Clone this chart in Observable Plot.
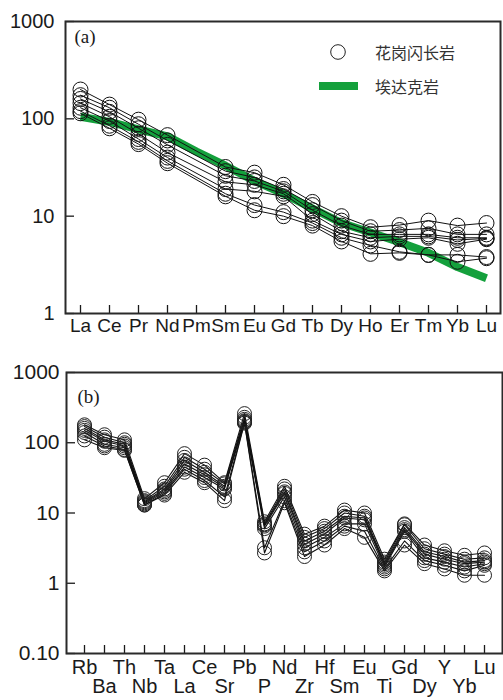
<!DOCTYPE html>
<html><head><meta charset="utf-8">
<script src="https://cdn.jsdelivr.net/npm/d3@7"></script>
<script src="https://cdn.jsdelivr.net/npm/@observablehq/plot@0.6"></script>
<style>
body{margin:0;background:#fff;}
#wrap{position:relative;width:503px;}
#wrap svg{display:block;}
.lg{position:absolute;font-family:"Noto Sans CJK SC",sans-serif;font-size:16px;color:#333;line-height:20px;white-space:nowrap;}
</style></head><body>
<div id="wrap"><div id="chartA"></div><div id="chartB"></div>
<svg class="lg" style="left:330px;top:44px" width="16" height="16"><circle cx="8" cy="8" r="7.3" fill="none" stroke="#222" stroke-width="1"/></svg>
<div class="lg" style="left:375px;top:42px">花岗闪长岩</div>
<div class="lg" style="left:319px;top:82px;width:39px;height:8px;background:#14a03c"></div>
<div class="lg" style="left:375px;top:76px">埃达克岩</div>
</div>
<script>
// ---------- Panel (a): chondrite-normalized REE ----------
const reeElements = ["La","Ce","Pr","Nd","Pm","Sm","Eu","Gd","Tb","Dy","Ho","Er","Tm","Yb","Lu"];
const reeS1 = [200,140,98,68,null,32,28,21,14,10,7.7,8.1,9.0,8.0,8.5];
const reeS2 = [175,130,88,60,null,29,25,19,13,9.0,7.0,7.2,7.5,6.5,6.5];
const reeS3 = [160,118,80,54,null,26,23,18,11.5,8.0,6.5,6.5,6.5,6.0,6.0];
const reeS4 = [145,105,70,45,null,22.5,21,17,10.5,7.0,6.0,6.2,6.2,5.7,5.9];
const reeS5 = [130,95,62,40,null,19,18,16,9.0,6.5,5.5,5.8,6.0,5.2,5.8];
const reeS6 = [120,85,58,37,null,17,13,11,8.5,6.0,5.0,4.3,4.0,4.0,3.8];
const reeS7 = [114,80,55,35,null,16,11.5,10,8.0,5.5,4.1,4.2,4.0,3.4,3.7];
const adakiteREE = [105,93,78,66,46,33,23,17,12,8.5,6.8,5.4,4.2,3.0,2.3];
const yTicksA = [1,10,100,1000];

// ---------- Panel (b): primitive-mantle-normalized spider ----------
const spiderElements = ["Rb","Ba","Th","Nb","Ta","La","Ce","Sr","Pb","P","Nd","Zr","Hf","Sm","Eu","Ti","Gd","Dy","Y","Yb","Lu"];
const spS1 = [180,130,110,16,27,70,48,27,260,7.5,24,5.0,6.5,11,10,2.2,7.0,3.5,2.9,2.5,2.7];
const spS2 = [170,120,100,15,24,62,42,26,230,7.0,22,4.5,6.0,10,9.0,2.0,6.8,3.1,2.6,2.2,2.3];
const spS3 = [160,110,95,14.5,22,56,38,24,215,6.8,20,4.0,5.5,9.0,8.5,1.9,6.2,2.8,2.4,2.0,2.1];
const spS4 = [150,105,90,14,21,50,35,23,205,6.5,19,3.6,5.0,8.5,8.0,1.8,5.8,2.6,2.2,1.9,2.0];
const spS5 = [140,95,85,13.5,20,45,32,22,200,6.0,17,3.2,4.5,7.0,7.0,1.7,5.5,2.3,2.0,1.7,1.9];
const spS6 = [125,90,80,13,19,42,29,17,195,3.2,15,2.8,4.0,6.5,5.5,1.6,4.0,2.1,1.8,1.5,1.8];
const spS7 = [110,85,78,13,18,38,27,15,190,2.7,14,2.4,3.5,6.0,4.5,1.5,3.5,1.9,1.6,1.3,1.3];
const yTicksB = [0.1,1,10,100,1000];

const sampleNames = ["S1","S2","S3","S4","S5","S6","S7"];
const reeSets = [reeS1,reeS2,reeS3,reeS4,reeS5,reeS6,reeS7];
const spSets = [spS1,spS2,spS3,spS4,spS5,spS6,spS7];

function rows(elements, sets) {
  const out = [];
  sets.forEach((vals, s) => vals.forEach((v, i) => {
    if (v != null) out.push({sample: sampleNames[s], el: elements[i], v});
  }));
  return out;
}
const reeRows = rows(reeElements, reeSets);
const adakiteRows = adakiteREE.map((v, i) => ({el: reeElements[i], v}));
const spRows = rows(spiderElements, spSets);

const FONT = "'Liberation Sans', Arial, sans-serif";
const INK = "#1a1a1a";

// Panel A
const A = {W: 503, H: 345, mt: 21, mb: 32, ml: 65, mr: 3};
const plotA = Plot.plot({
  width: A.W, height: A.H,
  marginTop: A.mt, marginBottom: A.mb, marginLeft: A.ml, marginRight: A.mr,
  style: {fontFamily: FONT, fontSize: "19px", color: INK, background: "white", overflow: "visible"},
  x: {type: "point", domain: reeElements, padding: 0.5, axis: null},
  y: {type: "log", domain: [1, 1000], axis: null},
  marks: [
    Plot.line(adakiteRows, {x: "el", y: "v", stroke: "#14a03c", strokeWidth: 8, strokeLinecap: "butt"}),
    Plot.line(reeRows, {x: "el", y: "v", z: "sample", stroke: "#111", strokeWidth: 1}),
    Plot.dot(reeRows, {x: "el", y: "v", r: 7.5, stroke: "#111", strokeWidth: 1, fill: "none"}),
    Plot.tickY(yTicksA, {y: d => d, stroke: INK, strokeWidth: 1.3, insetRight: (A.W - A.ml - A.mr) - 9}),
    Plot.tickX(reeElements, {x: d => d, stroke: INK, strokeWidth: 1.3, insetTop: (A.H - A.mt - A.mb) - 8}),
    Plot.axisY({ticks: yTicksA, tickSize: 0, tickPadding: 11, tickFormat: d => String(d), fontSize: 20, label: null}),
    Plot.axisX({tickSize: 0, tickPadding: 5, fontSize: 19, label: null}),
    Plot.frame({stroke: "#2a2a2a", strokeWidth: 2}),
    Plot.text(["(a)"], {frameAnchor: "top-left", dx: 9, dy: 15, lineAnchor: "middle", textAnchor: "start", fontFamily: "'Liberation Serif', 'Times New Roman', serif", fontSize: 19})
  ]
});
document.getElementById("chartA").append(plotA);

// Panel B
const B = {W: 503, H: 355, mt: 27, mb: 47, ml: 66, mr: 1};
const plotB = Plot.plot({
  width: B.W, height: B.H,
  marginTop: B.mt, marginBottom: B.mb, marginLeft: B.ml, marginRight: B.mr,
  style: {fontFamily: FONT, fontSize: "19px", color: INK, background: "white", overflow: "visible"},
  x: {type: "point", domain: spiderElements, padding: 0.5, axis: null},
  y: {type: "log", domain: [0.1, 1000], axis: null},
  marks: [
    Plot.line(spRows, {x: "el", y: "v", z: "sample", stroke: "#111", strokeWidth: 1.1}),
    Plot.dot(spRows, {x: "el", y: "v", r: 7, stroke: "#222", strokeWidth: 1, fill: "none"}),
    Plot.tickY(yTicksB, {y: d => d, stroke: INK, strokeWidth: 1.3, insetRight: (B.W - B.ml - B.mr) - 9}),
    Plot.tickX(spiderElements, {x: d => d, stroke: INK, strokeWidth: 1.3, insetTop: (B.H - B.mt - B.mb) - 8}),
    Plot.axisY({ticks: yTicksB, tickSize: 0, tickPadding: 7, tickFormat: d => d < 1 ? "0.10" : String(d), fontSize: 21, label: null}),
    Plot.axisX({tickSize: 0, tickPadding: 6, fontSize: 20, label: null, tickFormat: d => spiderElements.indexOf(d) % 2 ? "" : d}),
    Plot.axisX({tickSize: 0, tickPadding: 25, fontSize: 20, label: null, tickFormat: d => spiderElements.indexOf(d) % 2 ? d : ""}),
    Plot.frame({stroke: "#2a2a2a", strokeWidth: 2}),
    Plot.text(["(b)"], {frameAnchor: "top-left", dx: 11, dy: 24, lineAnchor: "middle", textAnchor: "start", fontFamily: "'Liberation Serif', 'Times New Roman', serif", fontSize: 19})
  ]
});
document.getElementById("chartB").append(plotB);
</script></body></html>
